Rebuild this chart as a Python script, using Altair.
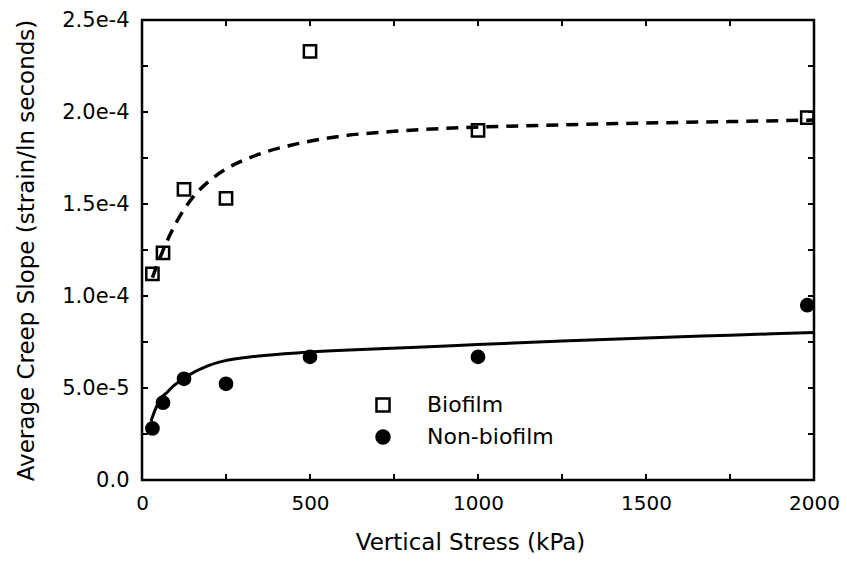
import altair as alt
import pandas as pd

# ---- data ----
series_names = ["Biofilm", "Non-biofilm"]

stress_bio = [31, 62.5, 125, 250, 500, 1000, 1980]
slope_bio = [1.12e-4, 1.234e-4, 1.58e-4, 1.53e-4, 2.33e-4, 1.90e-4, 1.97e-4]

stress_non = [31, 62.5, 125, 250, 500, 1000, 1980]
slope_non = [2.8e-5, 4.2e-5, 5.5e-5, 5.23e-5, 6.69e-5, 6.69e-5, 9.5e-5]

fit_bio_x = [31, 45, 62, 88, 118, 153, 200, 250, 312, 371, 440, 510, 580, 750, 1000, 1250, 1500, 1750, 2000]
fit_bio_y = [1.10e-4, 1.17e-4, 1.245e-4, 1.35e-4, 1.45e-4, 1.54e-4, 1.625e-4, 1.69e-4, 1.745e-4,
             1.785e-4, 1.818e-4, 1.845e-4, 1.866e-4, 1.895e-4, 1.918e-4, 1.930e-4, 1.940e-4,
             1.948e-4, 1.956e-4]

fit_non_x = [27, 40, 54, 75, 93, 120, 143, 192, 242, 341, 490, 600, 800, 1000, 1250, 1500, 1750, 2000]
fit_non_y = [3.21e-5, 3.85e-5, 4.38e-5, 4.77e-5, 5.1e-5, 5.45e-5, 5.74e-5, 6.18e-5, 6.46e-5,
             6.73e-5, 6.94e-5, 7.05e-5, 7.2e-5, 7.36e-5, 7.55e-5, 7.72e-5, 7.87e-5, 8.02e-5]

x_label_values = [0, 500, 1000, 1500, 2000]
y_label_values = [0, 5e-5, 1e-4, 1.5e-4, 2e-4, 2.5e-4]
x_tick_values = [0, 250, 500, 750, 1000, 1250, 1500, 1750, 2000]
y_tick_values = [0, 2.5e-5, 5e-5, 7.5e-5, 1e-4, 1.25e-4, 1.5e-4, 1.75e-4, 2e-4, 2.25e-4, 2.5e-4]

# ---- tables ----
pts = pd.DataFrame({
    "x": stress_bio + stress_non,
    "y": slope_bio + slope_non,
    "series": [series_names[0]] * len(stress_bio) + [series_names[1]] * len(stress_non),
})
fit_bio = pd.DataFrame({"x": fit_bio_x, "y": fit_bio_y})
fit_non = pd.DataFrame({"x": fit_non_x, "y": fit_non_y})
xt = pd.DataFrame({"x": x_tick_values})
yt = pd.DataFrame({"y": y_tick_values})

W, H = 672, 460
FONT = "DejaVu Sans"

xs = alt.Scale(domain=[0, 2000], nice=False, zero=True)
ys = alt.Scale(domain=[0, 2.5e-4], nice=False, zero=True)

x_axis = alt.Axis(
    values=x_label_values, ticks=False, domain=False, grid=False, format="d",
    labelFont=FONT, labelFontSize=20, labelColor="black", labelPadding=13,
    labelFlush=False, labelOverlap=False,
    title="Vertical Stress (kPa)", titleFont=FONT, titleFontSize=23,
    titleFontWeight="normal", titleColor="black",
    titleX=328, titleY=69, titleBaseline="alphabetic",
)
y_axis = alt.Axis(
    values=y_label_values, ticks=False, domain=False, grid=False,
    labelExpr="datum.value == 0 ? '0.0' : format(datum.value, '.1e')",
    labelFont=FONT, labelFontSize=21, labelColor="black", labelPadding=13,
    labelFlush=False, labelOverlap=False,
    title="Average Creep Slope (strain/ln seconds)", titleFont=FONT, titleFontSize=23,
    titleFontWeight="normal", titleColor="black",
    titleX=-116, titleY=230, titleBaseline="middle",
)

X = alt.X("x:Q", scale=xs, axis=x_axis)
Y = alt.Y("y:Q", scale=ys, axis=y_axis)

points = alt.Chart(pts).mark_point(
    filled=True, size=150, strokeWidth=2.5, opacity=1
).encode(
    x=X, y=Y,
    shape=alt.Shape("series:N", scale=alt.Scale(domain=series_names, range=["square", "circle"]),
                    legend=alt.Legend(title=None)),
    fill=alt.Fill("series:N", scale=alt.Scale(domain=series_names, range=["white", "black"]),
                  legend=alt.Legend(title=None)),
    stroke=alt.Stroke("series:N", scale=alt.Scale(domain=series_names, range=["black", "black"]),
                      legend=alt.Legend(title=None)),
)

line_bio = alt.Chart(fit_bio).mark_line(
    color="black", strokeWidth=3.5, strokeDash=[12, 8], interpolate="monotone"
).encode(x=X, y=Y)

line_non = alt.Chart(fit_non).mark_line(
    color="black", strokeWidth=3, interpolate="monotone"
).encode(x=X, y=Y)

tick_bottom = alt.Chart(xt).mark_rule(color="black", strokeWidth=2).encode(
    x=X, y=alt.value(H), y2=alt.value(H - 6))
tick_top = alt.Chart(xt).mark_rule(color="black", strokeWidth=2).encode(
    x=X, y=alt.value(0), y2=alt.value(6))
tick_left = alt.Chart(yt).mark_rule(color="black", strokeWidth=2).encode(
    y=Y, x=alt.value(0), x2=alt.value(6))
tick_right = alt.Chart(yt).mark_rule(color="black", strokeWidth=2).encode(
    y=Y, x=alt.value(W), x2=alt.value(W - 6))

chart = alt.layer(
    points, tick_bottom, tick_top, tick_left, tick_right, line_bio, line_non
).properties(
    width=W, height=H,
    padding={"left": 134, "top": 12, "right": 25, "bottom": 75},
    autosize=alt.AutoSizeParams(type="none"),
    background="white",
).configure_view(
    stroke="black", strokeWidth=2.5
).configure_legend(
    orient="none", legendX=230, legendY=374,
    labelFont=FONT, labelFontSize=22, labelColor="black",
    symbolSize=170, symbolStrokeWidth=2.5,
    symbolOpacity=1, labelOffset=33, rowPadding=8,
)

chart.save("out.html", embed_options={"renderer": "svg", "actions": False})
